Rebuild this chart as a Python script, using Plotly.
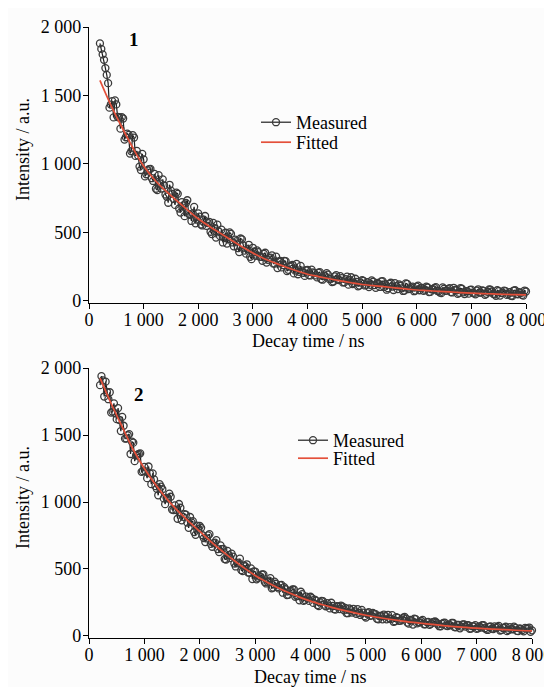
import plotly.graph_objects as go

# Time channels (ns) - main channels
time_ns = [
    200, 250, 300, 350, 400, 450, 500, 550, 600, 650, 700, 750, 800, 850, 900, 950,
    1000, 1050, 1100, 1150, 1200, 1250, 1300, 1350, 1400, 1450, 1500, 1550, 1600, 1650, 1700, 1750,
    1800, 1850, 1900, 1950, 2000, 2050, 2100, 2150, 2200, 2250, 2300, 2350, 2400, 2450, 2500, 2550,
    2600, 2650, 2700, 2750, 2800, 2850, 2900, 2950, 3000, 3050, 3100, 3150, 3200, 3250, 3300, 3350,
    3400, 3450, 3500, 3550, 3600, 3650, 3700, 3750, 3800, 3850, 3900, 3950, 4000, 4050, 4100, 4150,
    4200, 4250, 4300, 4350, 4400, 4450, 4500, 4550, 4600, 4650, 4700, 4750, 4800, 4850, 4900, 4950,
    5000, 5050, 5100, 5150, 5200, 5250, 5300, 5350, 5400, 5450, 5500, 5550, 5600, 5650, 5700, 5750,
    5800, 5850, 5900, 5950, 6000, 6050, 6100, 6150, 6200, 6250, 6300, 6350, 6400, 6450, 6500, 6550,
    6600, 6650, 6700, 6750, 6800, 6850, 6900, 6950, 7000, 7050, 7100, 7150, 7200, 7250, 7300, 7350,
    7400, 7450, 7500, 7550, 7600, 7650, 7700, 7750, 7800, 7850, 7900, 7950, 8000,
]
# intermediate channels (ns)
time_ns_mid = [
    225, 275, 325, 375, 425, 475, 525, 575, 625, 675, 725, 775, 825, 875, 925, 975,
    1025, 1075, 1125, 1175, 1225, 1275, 1325, 1375, 1425, 1475, 1525, 1575, 1625, 1675, 1725, 1775,
    1825, 1875, 1925, 1975, 2025, 2075, 2125, 2175, 2225, 2275, 2325, 2375, 2425, 2475, 2525, 2575,
    2625, 2675, 2725, 2775, 2825, 2875, 2925, 2975, 3025, 3075, 3125, 3175, 3225, 3275, 3325, 3375,
    3425, 3475, 3525, 3575, 3625, 3675, 3725, 3775, 3825, 3875, 3925, 3975, 4025, 4075, 4125, 4175,
    4225, 4275, 4325, 4375, 4425, 4475, 4525, 4575, 4625, 4675, 4725, 4775, 4825, 4875, 4925, 4975,
    5025, 5075, 5125, 5175, 5225, 5275, 5325, 5375, 5425, 5475, 5525, 5575, 5625, 5675, 5725, 5775,
    5825, 5875, 5925, 5975, 6025, 6075, 6125, 6175, 6225, 6275, 6325, 6375, 6425, 6475, 6525, 6575,
    6625, 6675, 6725, 6775, 6825, 6875, 6925, 6975, 7025, 7075, 7125, 7175, 7225, 7275, 7325, 7375,
    7425, 7475, 7525, 7575, 7625, 7675, 7725, 7775, 7825, 7875, 7925, 7975,
]

measured_1 = [
    1880, 1800, 1700, 1590, 1434, 1340, 1435, 1341, 1342, 1178, 1222, 1076, 1210, 1059, 1061, 956,
    1034, 925, 963, 896, 927, 809, 859, 888, 777, 717, 805, 745, 791, 675, 721, 619,
    735, 628, 639, 567, 639, 558, 594, 548, 578, 488, 531, 557, 473, 427, 498, 451,
    489, 399, 437, 357, 450, 367, 378, 322, 388, 330, 356, 322, 344, 280, 312, 332,
    272, 240, 293, 261, 290, 227, 256, 201, 270, 212, 221, 183, 226, 186, 208, 186,
    206, 160, 186, 203, 160, 138, 179, 158, 181, 135, 159, 119, 173, 131, 139, 112,
    151, 113, 138, 118, 140, 96, 124, 143, 102, 82, 125, 105, 130, 86, 111, 73,
    128, 87, 97, 71, 105, 78, 96, 82, 98, 66, 86, 101, 71, 57, 89, 75,
    94, 62, 80, 52, 93, 63, 71, 53, 82, 55, 75, 61, 77, 45, 67, 82,
    52, 38, 71, 57, 76, 44, 64, 36, 78, 48, 57, 39, 69,
]
measured_1_mid = [
    1840, 1760, 1650, 1411, 1459, 1464, 1343, 1258, 1332, 1195, 1212, 1093, 1193, 1096, 981, 1074,
    909, 954, 964, 876, 819, 918, 821, 843, 761, 848, 782, 701, 782, 645, 698, 715,
    636, 584, 687, 594, 615, 551, 620, 569, 505, 570, 463, 507, 521, 460, 419, 501,
    427, 448, 386, 456, 406, 345, 410, 305, 359, 369, 323, 293, 352, 300, 316, 272,
    324, 288, 245, 293, 218, 251, 264, 221, 195, 256, 206, 224, 188, 228, 203, 172,
    210, 155, 181, 192, 161, 142, 189, 153, 167, 136, 178, 153, 123, 162, 107, 134,
    147, 118, 101, 150, 115, 131, 102, 145, 122, 93, 133, 80, 108, 121, 92, 75,
    124, 89, 105, 76, 112, 95, 74, 104, 65, 85, 95, 74, 62, 99, 74, 86,
    65, 96, 80, 59, 89, 50, 71, 81, 60, 48, 85, 61, 73, 52, 84, 69,
    48, 78, 39, 60, 71, 50, 38, 76, 51, 64, 44, 76,
]

measured_2 = [
    1872, 1907, 1898, 1767, 1667, 1736, 1618, 1612, 1635, 1473, 1498, 1358, 1443, 1347, 1358, 1225,
    1262, 1178, 1214, 1214, 1118, 1050, 1114, 1027, 1031, 1062, 944, 975, 875, 957, 889, 905,
    807, 848, 776, 823, 821, 752, 701, 751, 687, 693, 715, 626, 649, 574, 635, 581,
    593, 519, 548, 492, 526, 535, 471, 425, 481, 434, 440, 460, 392, 413, 356, 406,
    366, 379, 323, 349, 307, 338, 347, 300, 266, 312, 269, 280, 293, 247, 264, 224,
    261, 234, 245, 206, 225, 197, 220, 227, 194, 171, 205, 175, 183, 201, 157, 175,
    138, 177, 153, 165, 128, 150, 124, 148, 158, 127, 106, 141, 113, 123, 143, 100,
    120, 85, 126, 102, 112, 87, 103, 83, 101, 108, 86, 72, 97, 77, 84, 98,
    67, 82, 57, 87, 70, 80, 55, 72, 53, 72, 80, 58, 45, 71, 52, 60,
    75, 45, 60, 36, 66, 50, 60, 36, 53, 35, 55, 63, 42,
]
measured_2_mid = [
    1939, 1787, 1821, 1819, 1675, 1662, 1701, 1529, 1569, 1474, 1507, 1450, 1305, 1353, 1363, 1230,
    1229, 1265, 1133, 1169, 1099, 1133, 1095, 984, 1026, 1039, 939, 940, 985, 863, 909, 847,
    888, 857, 755, 802, 807, 730, 728, 760, 666, 697, 649, 676, 650, 571, 604, 614,
    541, 542, 577, 484, 519, 474, 505, 482, 423, 449, 459, 402, 404, 432, 361, 390,
    355, 381, 365, 305, 335, 348, 293, 299, 330, 262, 294, 262, 283, 272, 231, 251,
    260, 222, 227, 248, 200, 223, 200, 220, 210, 170, 193, 203, 166, 172, 195, 148,
    171, 150, 172, 163, 124, 149, 160, 124, 132, 156, 110, 135, 114, 137, 130, 92,
    116, 129, 94, 102, 120, 87, 105, 90, 106, 100, 73, 91, 99, 74, 79, 97,
    65, 83, 70, 86, 81, 54, 73, 81, 57, 63, 81, 49, 68, 55, 72, 67,
    41, 60, 69, 45, 51, 70, 38, 57, 44, 61, 57, 31,
]

fit_time_ns = [
    200, 400, 600, 800, 1000, 1200, 1400, 1600, 1800, 2000, 2200, 2400, 2600, 2800, 3000, 3200,
    3400, 3600, 3800, 4000, 4200, 4400, 4600, 4800, 5000, 5200, 5400, 5600, 5800, 6000, 6200, 6400,
    6600, 6800, 7000, 7200, 7400, 7600, 7800, 8000,
]
fitted_1 = [
    1610, 1430, 1270, 1120, 985, 885, 805, 735, 665, 600, 545, 495, 445, 395, 350, 310,
    278, 248, 220, 195, 178, 162, 147, 133, 120, 112, 104, 96, 88, 80, 75, 70,
    66, 61, 57, 54, 51, 48, 46, 44,
]
fitted_2 = [
    1925, 1735, 1560, 1390, 1250, 1130, 1025, 935, 855, 780, 705, 635, 570, 508, 452, 405,
    362, 324, 290, 260, 235, 212, 191, 172, 155, 140, 127, 115, 104, 95, 86, 78,
    70, 64, 58, 53, 49, 45, 41, 38,
]

x_tickvals = [0, 1000, 2000, 3000, 4000, 5000, 6000, 7000, 8000]
x_ticktext = ["0", "1 000", "2 000", "3 000", "4 000", "5 000", "6 000", "7 000", "8 000"]
y_tickvals = [0, 500, 1000, 1500, 2000]
y_ticktext = ["0", "500", "1 000", "1 500", "2 000"]
panel_labels = ["1", "2"]
series_names = ["Measured", "Fitted"]
x_title = "Decay time / ns"
y_title = "Intensity / a.u."

FONT = "Liberation Serif, Times New Roman, serif"
PAGE_OFF = 8              # default body margin of the page
W, H = 552 - PAGE_OFF, 687 - PAGE_OFF


def merged(t_a, v_a, t_b, v_b):
    pairs = sorted(zip(t_a + t_b, v_a + v_b))
    return [p[0] for p in pairs], [p[1] for p in pairs]


def px_x(p):
    return (p - PAGE_OFF) / W


def px_y(p):
    return 1 - (p - PAGE_OFF) / H


fig = go.Figure()

panels = [
    (merged(time_ns, measured_1, time_ns_mid, measured_1_mid), fitted_1, "x", "y", ("legend", "legend2")),
    (merged(time_ns, measured_2, time_ns_mid, measured_2_mid), fitted_2, "x2", "y2", ("legend3", "legend4")),
]
for (mt, mv), fit, xa, ya, lgs in panels:
    fig.add_trace(go.Scatter(
        x=mt, y=mv, mode="lines+markers", name=series_names[0],
        xaxis=xa, yaxis=ya, legend=lgs[0], cliponaxis=False,
        line=dict(color="#1e1e1e", width=1.2),
        marker=dict(symbol="circle-open", size=7, color="#3a3a3a", line=dict(width=1.3)),
    ))
    fig.add_trace(go.Scatter(
        x=fit_time_ns, y=fit, mode="lines", name=series_names[1], line_shape="spline",
        xaxis=xa, yaxis=ya, legend=lgs[1], cliponaxis=False,
        line=dict(color="#e4503a", width=1.7),
    ))

axis_common = dict(
    showline=True, linecolor="black", linewidth=1.3, ticks="outside", ticklen=5,
    tickwidth=1.2, tickcolor="black", showgrid=False, zeroline=False, automargin=False,
    ticklabeloverflow="allow",
    tickfont=dict(family=FONT, size=18, color="black"),
)
xaxis_common = dict(range=[0, 8000], tickvals=x_tickvals, ticktext=x_ticktext,
                    ticklabelstandoff=-5, **axis_common)
yaxis_common = dict(range=[-15, 2000], tickvals=y_tickvals, ticktext=y_ticktext,
                    ticklabelstandoff=-2, **axis_common)


def legend_at(text_left, center_y):
    return dict(x=px_x(text_left - 41), y=px_y(center_y - 18), xanchor="left", yanchor="top",
                bgcolor="rgba(0,0,0,0)", font=dict(family=FONT, size=18),
                itemwidth=30, tracegroupgap=0)


fig.update_layout(
    width=W, height=H, margin=dict(l=0, r=0, t=0, b=0, autoexpand=False),
    paper_bgcolor="#fcfcfc", plot_bgcolor="#fcfcfc",
    font=dict(family=FONT, size=18, color="black"),
    xaxis=dict(domain=[px_x(89), px_x(526)], anchor="y", **xaxis_common),
    yaxis=dict(domain=[px_y(303), px_y(27)], anchor="x", **yaxis_common),
    xaxis2=dict(domain=[px_x(89), px_x(532)], anchor="y2", **xaxis_common),
    yaxis2=dict(domain=[px_y(638), px_y(368)], anchor="x2", **yaxis_common),
    legend=legend_at(297, 122),
    legend2=legend_at(297, 142),
    legend3=legend_at(334, 440),
    legend4=legend_at(334, 458),
    showlegend=True,
)

ann_font = dict(family=FONT, size=18, color="black")
# axis titles
for xp, yp, txt, ang in [(308, 341, x_title, 0), (310, 677, x_title, 0),
                         (23, 150, y_title, -90), (23, 498, y_title, -90)]:
    fig.add_annotation(x=px_x(xp), y=px_y(yp), xref="paper", yref="paper", text=txt,
                       textangle=ang, xanchor="center", yanchor="middle",
                       showarrow=False, font=ann_font)

# panel labels
fig.add_annotation(x=824, y=1912, xref="x", yref="y", text="<b>" + panel_labels[0] + "</b>",
                   xanchor="center", yanchor="middle",
                   showarrow=False, font=dict(family=FONT, size=19, color="black"))
fig.add_annotation(x=903, y=1799, xref="x2", yref="y2", text="<b>" + panel_labels[1] + "</b>",
                   xanchor="center", yanchor="middle",
                   showarrow=False, font=dict(family=FONT, size=19, color="black"))

fig.write_html("out.html")
